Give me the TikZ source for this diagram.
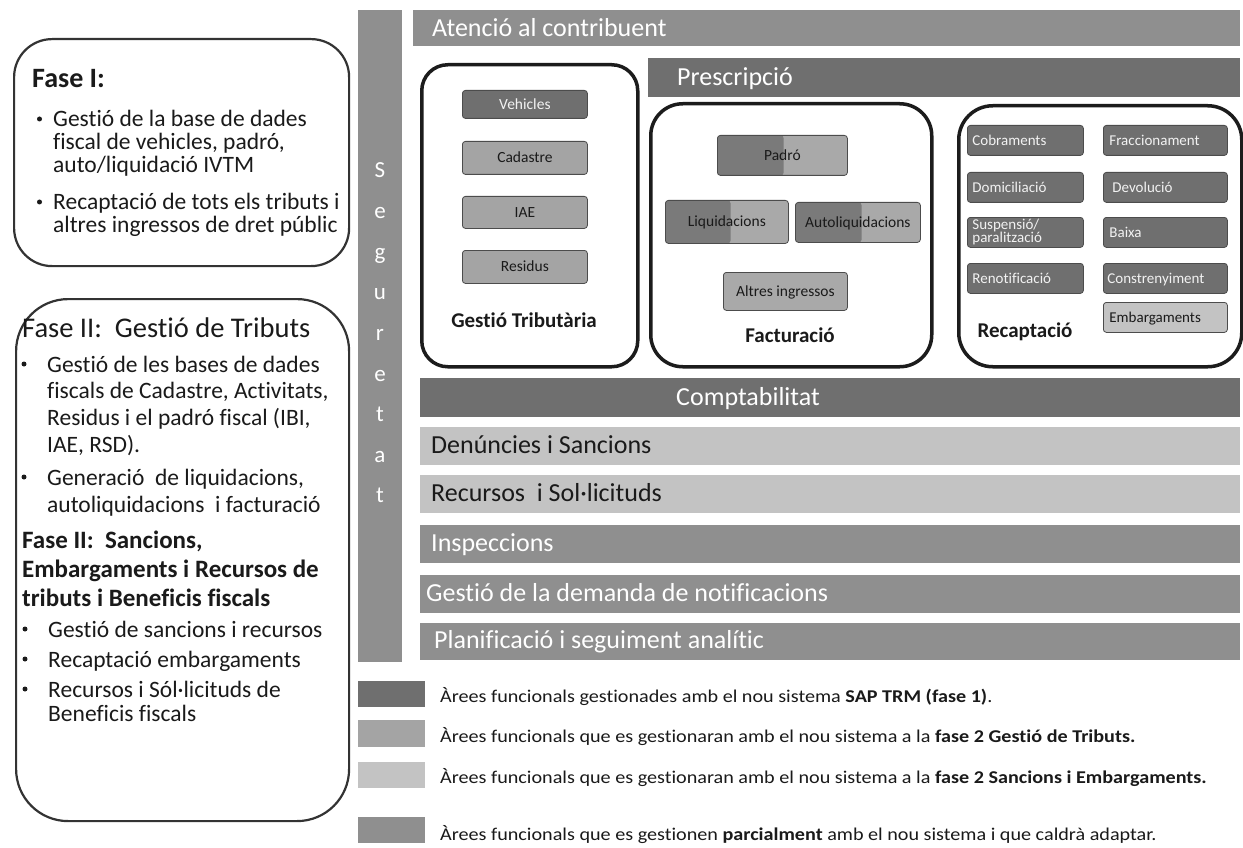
\documentclass[tikz,border=0pt]{standalone}
\usepackage{fontspec}
\setmainfont[Ligatures=NoCommon]{Carlito}
\newfontfamily\legfont[Ligatures=NoCommon,FakeStretch=1.12]{Carlito}
\usetikzlibrary{calc}
\definecolor{cdark}{HTML}{6F6F6F}
\definecolor{cmed}{HTML}{A4A4A4}
\definecolor{clight}{HTML}{C3C3C3}
\definecolor{cpart}{HTML}{8F8F8F}
\definecolor{cedge}{HTML}{1C1C1C}
\definecolor{cline}{HTML}{333333}
\definecolor{ctxt}{HTML}{1A1A1A}
\definecolor{cbe}{HTML}{4C4C4C}
\definecolor{csplitd}{HTML}{7A7A7A}
\definecolor{csplitl}{HTML}{A9A9A9}
\definecolor{cwt}{HTML}{F2F2F2}
\newcommand{\fsz}[1]{\fontsize{#1}{#1}\selectfont}
\begin{document}
\begin{tikzpicture}[x=1pt,y=-1pt,
  band/.style={rectangle, inner sep=0pt, anchor=north west, draw=none},
  bandtxt/.style={anchor=base west, inner sep=0pt, text=white, font=\fsz{26}},
  bandtxtd/.style={bandtxt, text=ctxt},
  area/.style={rectangle, anchor=north west, draw=cedge, line width=3.5pt, rounded corners=#1, fill=white, inner sep=0pt},
  phase/.style={rectangle, anchor=north west, draw=cline, line width=2.2pt, rounded corners=#1, inner sep=0pt},
  ptxt/.style={anchor=base west, inner sep=0pt, text=ctxt, font=\fsz{23.5}},
  bul/.style={circle, fill=ctxt, inner sep=0pt, minimum size=5pt},
  sbox/.style={rectangle, anchor=north west, rounded corners=3pt, draw=cbe, line width=0.8pt, inner ysep=0pt, inner xsep=0pt, font=\fsz{15.5}, text height=10pt, text depth=0pt, align=center},
  rbox/.style={sbox, fill=cdark, text=cwt, inner xsep=5pt, align=left, font=\fsz{15}},
  twotone/.style={path picture={\fill[csplitd] (path picture bounding box.south west) rectangle ($(path picture bounding box.north west)!#1!(path picture bounding box.north east)$);}},
  areatxt/.style={anchor=base, inner sep=0pt, text=ctxt, font=\fsz{21}\bfseries},
  legtxt/.style={anchor=base west, inner sep=0pt, text=ctxt, font=\legfont\fsz{18}},
  segl/.style={anchor=base, inner sep=0pt, text=white, font=\fsz{23}},
]
\useasboundingbox (0,0) rectangle (1243,848);
\fill[white] (0,0) rectangle (1243,848);

% ---------------- left phase boxes ----------------
\node[phase=38, minimum width=335, minimum height=227] (ph1) at (13,38) {};
\node[phase=52, minimum width=333, minimum height=522] (ph2) at (15,298) {};

\node[anchor=base west, inner sep=0pt, text=ctxt, font=\fsz{28}\bfseries] (f1h) at (32,88) {Fase I:};
\node[bul] (b11) at (39.5,119) {};
\node[ptxt] (t11) at (53,127) {Gestió de la base de dades};
\node[ptxt] (t12) at (53,149.5) {fiscal de vehicles, padró,};
\node[ptxt] (t13) at (53,172) {auto/liquidació IVTM};
\node[bul] (b12) at (39.5,202) {};
\node[ptxt] (t14) at (53,210) {Recaptació de tots els tributs i};
\node[ptxt] (t15) at (53,233) {altres ingressos de dret públic};

\node[anchor=base west, inner sep=0pt, text=ctxt, font=\fsz{28.5}] (f2h) at (22,337) {Fase II:\ \ Gestió de Tributs};
\node[bul] (b21) at (24,364) {};
\node[ptxt] (t21) at (47,372) {Gestió de les bases de dades};
\node[ptxt] (t22) at (47,398.5) {fiscals de Cadastre, Activitats,};
\node[ptxt] (t23) at (47,425) {Residus i el padró fiscal (IBI,};
\node[ptxt] (t24) at (47,452) {IAE, RSD).};
\node[bul] (b22) at (24,477) {};
\node[ptxt] (t25) at (47,485) {Generació\ \ de liquidacions,};
\node[ptxt] (t26) at (47,512) {autoliquidacions\ \ i facturació};

\node[anchor=base west, inner sep=0pt, text=ctxt, font=\fsz{25}\bfseries] (f3h1) at (22,548) {Fase II:\ \ Sancions,};
\node[anchor=base west, inner sep=0pt, text=ctxt, font=\fsz{25}\bfseries] (f3h2) at (22,577) {Embargaments i Recursos de};
\node[anchor=base west, inner sep=0pt, text=ctxt, font=\fsz{25}\bfseries] (f3h3) at (22,606) {tributs i Beneficis fiscals};
\node[bul] (b31) at (25,629) {};
\node[ptxt] (t31) at (48,637) {Gestió de sancions i recursos};
\node[bul] (b32) at (25,659) {};
\node[ptxt] (t32) at (48,667) {Recaptació embargaments};
\node[bul] (b33) at (25,689) {};
\node[ptxt] (t33) at (48,697) {Recursos i Sól·licituds de};
\node[ptxt] (t34) at (48,721) {Beneficis fiscals};

% ---------------- Seguretat ----------------
\node[band, fill=cpart, minimum width=44, minimum height=652] (seg) at (358,10) {};
\foreach \c [count=\i from 0] in {S,e,g,u,r,e,t,a,t}
  \node[segl] (seg\i) at (380,{178+40.6*\i}) {\c};

% ---------------- horizontal bands ----------------
\node[band, fill=cpart, minimum width=827, minimum height=36] (aten) at (413,10) {};
\node[bandtxt] (atenT) at (432,36.5) {Atenció al contribuent};
\node[band, fill=cdark, minimum width=592, minimum height=39] (presc) at (648,58) {};
\node[bandtxt] (prescT) at (677,86) {Prescripció};

\node[band, fill=cdark, minimum width=820, minimum height=39] (compt) at (420,378) {};
\node[bandtxt] (comptT) at (676,405) {Comptabilitat};
\node[band, fill=clight, minimum width=820, minimum height=38] (denun) at (420,427) {};
\node[bandtxtd] (denunT) at (431,453) {Denúncies i Sancions};
\node[band, fill=clight, minimum width=820, minimum height=38] (recur) at (420,475) {};
\node[bandtxtd] (recurT) at (431,501) {Recursos\ \ i Sol·licituds};
\node[band, fill=cpart, minimum width=820, minimum height=38] (insp) at (420,525) {};
\node[bandtxt] (inspT) at (431,551) {Inspeccions};
\node[band, fill=cpart, minimum width=820, minimum height=38] (gdem) at (420,575) {};
\node[bandtxt] (gdemT) at (426,601) {Gestió de la demanda de notificacions};
\node[band, fill=cpart, minimum width=820, minimum height=37] (plan) at (420,623) {};
\node[bandtxt] (planT) at (434,648) {Planificació i seguiment analític};

% ---------------- Gestió Tributària ----------------
\node[area=26, minimum width=216, minimum height=302] (gt) at (420,63) {};
\node[sbox, fill=cdark, text=cwt, minimum width=125, minimum height=28] (veh) at (462,90) {Vehicles};
\node[sbox, fill=cmed, text=ctxt, minimum width=125, minimum height=33] (cad) at (462,141) {Cadastre};
\node[sbox, fill=cmed, text=ctxt, minimum width=125, minimum height=32] (iae) at (462,196) {IAE};
\node[sbox, fill=cmed, text=ctxt, minimum width=125, minimum height=33] (res) at (462,250) {Residus};
\node[areatxt] (gtT) at (524,327) {Gestió Tributària};

% ---------------- Facturació ----------------
\node[area=32, minimum width=281, minimum height=263] (fac) at (649,102) {};
\node[sbox, fill=csplitl, twotone=0.51, text=ctxt, minimum width=130, minimum height=40] (padro) at (717,135) {Padró};
\node[sbox, fill=csplitl, twotone=0.53, text=ctxt, minimum width=123, minimum height=43] (liq) at (665,200) {Liquidacions};
\node[sbox, fill=csplitl, twotone=0.53, text=ctxt, minimum width=125, minimum height=40] (auto) at (795,202) {Autoliquidacions};
\node[sbox, fill=csplitl, text=ctxt, minimum width=124, minimum height=38] (altr) at (723,272) {Altres ingressos};
\node[areatxt] (facT) at (790,342) {Facturació};

% ---------------- Recaptació ----------------
\node[area=34, minimum width=283, minimum height=261] (rec) at (957,104) {};
\node[rbox, text width=106, minimum height=30] (cobr) at (967,125) {Cobraments};
\node[rbox, text width=106, minimum height=30] (domi) at (967,172) {Domiciliació};
\node[rbox, text width=106, minimum height=30, text height=, text depth=, font=\fontsize{15}{13}\selectfont] (susp) at (967,217) {Suspensió/\\paralització};
\node[rbox, text width=106, minimum height=30] (reno) at (967,263) {Renotificació};
\node[rbox, text width=112, inner xsep=6pt, minimum height=30] (frac) at (1103,125) {Fraccionament};
\node[rbox, text width=106, inner xsep=9pt, minimum height=30] (devo) at (1103,172) {Devolució};
\node[rbox, text width=112, inner xsep=6pt, minimum height=30] (baix) at (1103,217) {Baixa};
\node[rbox, text width=116, inner xsep=4pt, minimum height=30] (cons) at (1103,263) {Constrenyiment};
\node[rbox, fill=clight, text=ctxt, text width=112, inner xsep=6pt, minimum height=30] (emba) at (1103,302) {Embargaments};
\node[areatxt] (recT) at (1025,337) {Recaptació};

% ---------------- legend ----------------
\node[band, fill=cdark, minimum width=67, minimum height=26] (sw1) at (358,681) {};
\node[legtxt] (lg1) at (440,702) {Àrees funcionals gestionades amb el nou sistema \textbf{SAP TRM (fase 1)}.};
\node[band, fill=cmed, minimum width=67, minimum height=27] (sw2) at (358,720) {};
\node[legtxt] (lg2) at (440,742) {Àrees funcionals que es gestionaran amb el nou sistema a la \textbf{fase 2 Gestió de Tributs.}};
\node[band, fill=clight, minimum width=67, minimum height=26] (sw3) at (358,762) {};
\node[legtxt] (lg3) at (440,783) {Àrees funcionals que es gestionaran amb el nou sistema a la \textbf{fase 2 Sancions i Embargaments.}};
\node[band, fill=cpart, minimum width=67, minimum height=26] (sw4) at (358,817) {};
\node[legtxt] (lg4) at (440,840) {Àrees funcionals que es gestionen \textbf{parcialment} amb el nou sistema i que caldrà adaptar.};
\end{tikzpicture}
\end{document}
